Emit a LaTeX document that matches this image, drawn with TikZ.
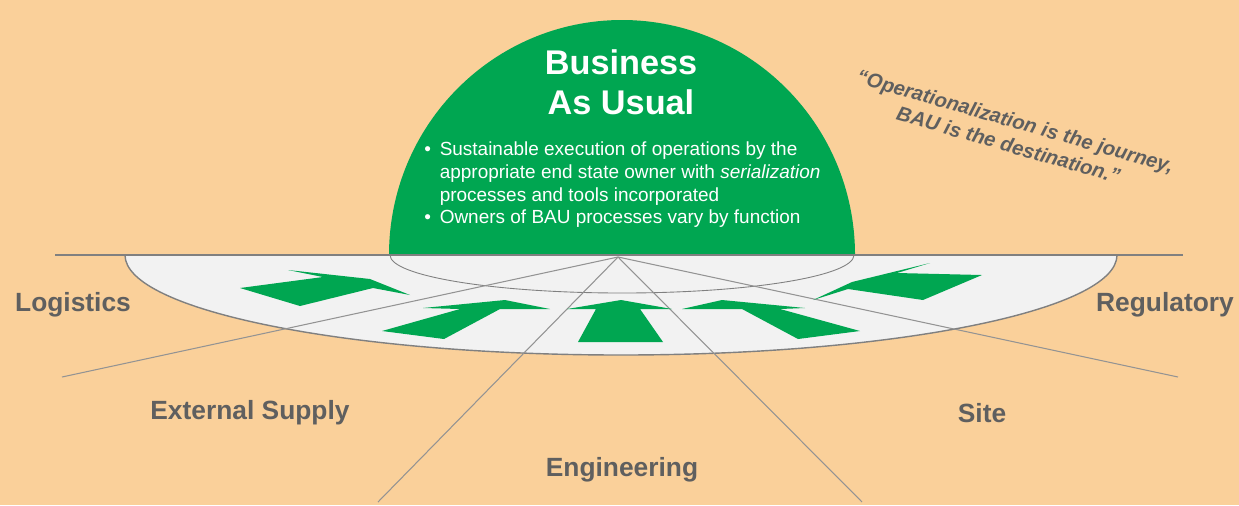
\documentclass[tikz,border=0pt]{standalone}
\usepackage{fontspec}
\setmainfont{Liberation Sans}
\definecolor{peach}{RGB}{250,208,154}
\definecolor{bau}{RGB}{0,166,81}
\definecolor{disc}{RGB}{242,242,242}
\definecolor{rim}{RGB}{128,128,128}
\definecolor{label}{RGB}{95,95,95}
\begin{document}
\begin{tikzpicture}[x=0.02cm, y=-0.02cm,
    func/.style = {text=label, font=\fontsize{15}{18}\selectfont\bfseries},
    ray/.style = {draw=rim!85, line width=0.6pt},
    chevron/.style = {fill=bau}]
    \useasboundingbox (0,0) rectangle (1239,505);
    \fill[peach] (0,0) rectangle (1239,505);

    % dome and disc
    \fill[bau] (389,255) arc[start angle=180, end angle=360, x radius=233, y radius=235] -- cycle;
    \filldraw[fill=disc, draw=rim, line width=0.8pt] (125,255) arc[start angle=180, end angle=0, x radius=496, y radius=100];
    \draw[rim, line width=0.5pt] (390,255) arc[start angle=180, end angle=0, x radius=232, y radius=38];
    \draw[rim, line width=1.6pt] (55,255) -- (1183,255);

    % rays from the centre
    \coordinate (apex) at (618,257);
    \coordinate (logEnd) at (62,377);
    \coordinate (regEnd) at (1178,377);
    \coordinate (extEnd) at (378,502);
    \coordinate (siteEnd) at (862,502);
    \foreach \e in {logEnd, regEnd, extEnd, siteEnd}
        \draw[ray] (apex) -- (\e);

    % arrows pointing in
    \fill[chevron] (578,342) -- (596,309) -- (567,309) -- (621,300) -- (672,309) -- (640,309) -- (663,342) -- cycle;
    \fill[chevron] (382,331) -- (444,339) -- (500,309) -- (550,309) -- (505,300) -- (423,308) -- (460,309) -- cycle;
    \fill[chevron] (860,331) -- (798,339) -- (742,309) -- (682,309) -- (722,300) -- (805,308) -- (780,309) -- cycle;
    \fill[chevron] (240,288) -- (323,277) -- (288,270) -- (370,279) -- (410,295) -- (373,288) -- (300,306) -- cycle;
    \fill[chevron] (813,300) -- (852,282) -- (930,263) -- (897,273) -- (982,275) -- (923,300) -- (848,289) -- cycle;

    % texts
    \node[text=white, font=\fontsize{19.5}{23}\selectfont\bfseries, align=center] (title) at (621,82) {Business\\As Usual};
    \node[text=white, font=\fontsize{10.8}{13}\selectfont, anchor=north west, inner sep=0pt] (points) at (424,139) {%
        \begin{tabular}{@{}l@{\hspace{5pt}}l@{}}
        \textbullet & Sustainable execution of operations by the\\
        & appropriate end state owner with \textit{serialization}\\
        & processes and tools incorporated\\
        \textbullet & Owners of BAU processes vary by function
        \end{tabular}};
    \node[text=label, font=\fontsize{11.5}{14}\selectfont\bfseries\itshape, align=center, rotate=-16] (quote) at (1012,133) {“Operationalization is the journey,\\BAU is the destination.”};

    \node[func] (logistics) at (73,305) {Logistics};
    \node[func] (regulatory) at (1165,305) {Regulatory};
    \node[func] (extsupply) at (250,413) {External Supply};
    \node[func] (site) at (982,413) {Site};
    \node[func] (engineering) at (622,470) {Engineering};
\end{tikzpicture}
\end{document}
